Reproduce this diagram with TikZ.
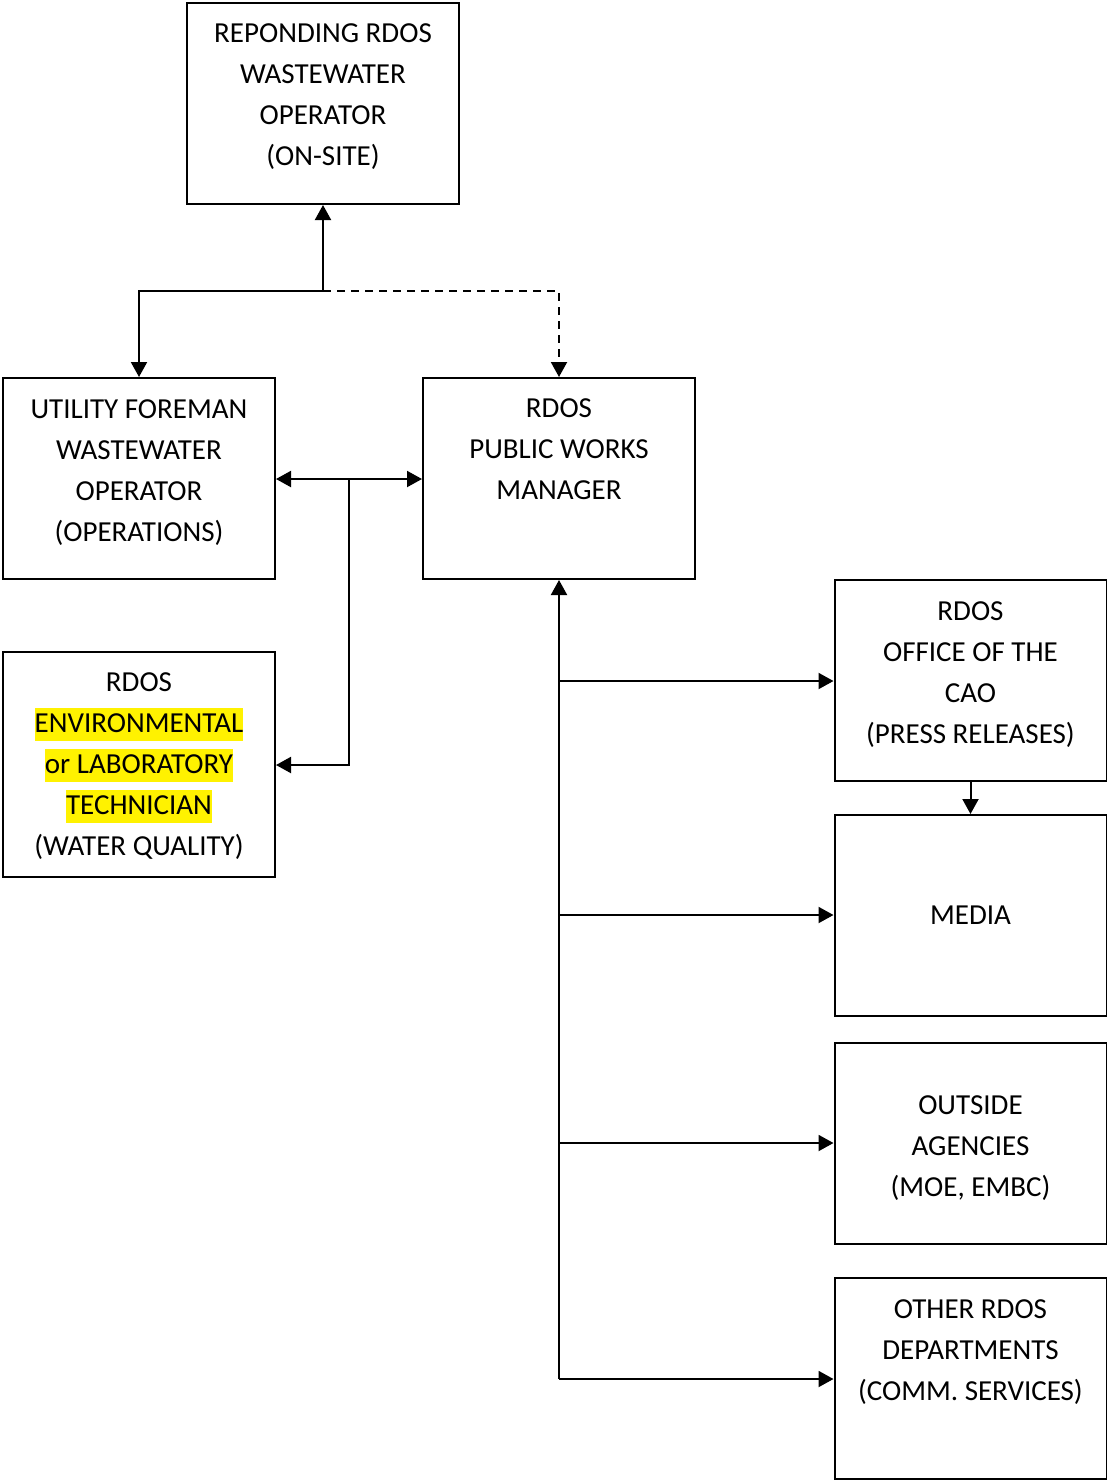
\documentclass[tikz,border=0pt]{standalone}
\usepackage{fontspec}
\setmainfont{Carlito}
\usetikzlibrary{arrows.meta}
\tikzset{
  box/.style={draw, line width=1pt, inner sep=0pt, minimum width=136pt},
  txt/.style={align=center, inner sep=0pt, font=\fontsize{14.5}{20.5}\selectfont},
  conn/.style={line width=1pt, -{Triangle[length=7.5pt,width=8pt]}},
  both/.style={line width=1pt, {Triangle[length=7.5pt,width=8pt]}-{Triangle[length=7.5pt,width=8pt]}},
}
\newcommand{\hl}[1]{{\setlength{\fboxsep}{0pt}\colorbox{yellow}{\rule[-4pt]{0pt}{16.5pt}#1}}}
\begin{document}
\begin{tikzpicture}[x=0.5pt,y=-0.5pt]
\useasboundingbox (0,0) rectangle (1107,1480);
% boxes
\node[box, minimum height=100.5pt] (op) at (323,103.5) {};
\node[box, minimum height=100.5pt] (fore) at (139,478.5) {};
\node[box, minimum height=100.5pt] (mgr) at (559,478.5) {};
\node[box, minimum height=112.5pt] (env) at (139,764.5) {};
\node[box, minimum height=100.5pt] (cao) at (970.5,680.5) {};
\node[box, minimum height=100.5pt] (media) at (970.5,915.5) {};
\node[box, minimum height=100.5pt] (out) at (970.5,1143.5) {};
\node[box, minimum height=100.5pt] (oth) at (970.5,1378.5) {};
% texts
\node[txt] (opt) at (323,97) {REPONDING RDOS\\WASTEWATER\\OPERATOR\\(ON-SITE)};
\node[txt] (foret) at (139,472.5) {UTILITY FOREMAN\\WASTEWATER\\OPERATOR\\(OPERATIONS)};
\node[txt] (mgrt) at (559,449) {RDOS\\PUBLIC WORKS\\MANAGER};
\node[txt] (envt) at (139,766.5) {RDOS\\\hl{ENVIRONMENTAL}\\\hl{or LABORATORY}\\\hl{TECHNICIAN}\\(WATER QUALITY)};
\node[txt] (caot) at (970.5,674.5) {RDOS\\OFFICE OF THE\\CAO\\(PRESS RELEASES)};
\node[txt] (mediat) at (970.5,915) {MEDIA};
\node[txt] (outt) at (970.5,1148) {OUTSIDE\\AGENCIES\\(MOE, EMBC)};
\node[txt] (otht) at (970.5,1352) {OTHER RDOS\\DEPARTMENTS\\(COMM. SERVICES)};
% junction coordinates
\coordinate (j1) at (323,291);
\coordinate (j2) at (349,479);
\coordinate (j3) at (559,1379);
% connectors
\draw[conn] (j1) -- (op.south);
\draw[conn] (j1) -| (fore.north);
\draw[conn, dashed, dash pattern=on 4pt off 3pt] (j1) -| (mgr.north);
\draw[both] (fore.east |- j2) -- (mgr.west |- j2);
\draw[conn] (j2) |- (env.east |- 0,765);
\draw[conn] (j3) -- (mgr.south);
\draw[conn] (j3) -- (oth.west |- j3);
\draw[conn] (mgr.south |- 0,681) -- (cao.west |- 0,681);
\draw[conn] (mgr.south |- 0,915) -- (media.west |- 0,915);
\draw[conn] (mgr.south |- 0,1143) -- (out.west |- 0,1143);
\draw[conn] (cao.south) -- (media.north);
\end{tikzpicture}
\end{document}
